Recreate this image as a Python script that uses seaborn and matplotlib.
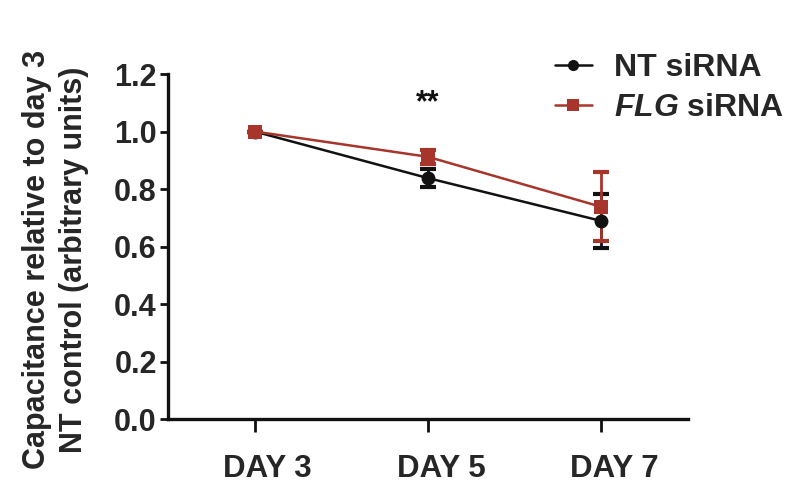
import matplotlib
matplotlib.use("Agg")
import matplotlib.pyplot as plt
import matplotlib.transforms as mtransforms
import seaborn as sns
import pandas as pd

days = ["DAY 3", "DAY 5", "DAY 7"]
nt_mean = [1.0, 0.838, 0.689]
nt_err = [0.0, 0.03, 0.094]
flg_mean = [1.0, 0.912, 0.738]
flg_err = [0.0, 0.025, 0.12]
groups = ["NT siRNA", "FLG siRNA"]

black = "#111111"
red = "#a8352b"

sns.set_style("white")
plt.rcParams['font.family'] = ['Liberation Sans', 'DejaVu Sans']
plt.rcParams['mathtext.fontset'] = 'custom'
plt.rcParams['mathtext.it'] = 'Liberation Sans:italic:bold'
plt.rcParams['mathtext.rm'] = 'Liberation Sans:bold'

df = pd.DataFrame({
    "x": list(range(len(days))) * 2,
    "y": nt_mean + flg_mean,
    "err": nt_err + flg_err,
    "group": [groups[0]] * len(days) + [groups[1]] * len(days),
})

fig = plt.figure(figsize=(7.98, 4.95), dpi=100)
ax = fig.add_axes([0.2105, 0.1535, 0.6515, 0.697])

palette = {groups[0]: black, groups[1]: red}
for g in groups:
    sub = df[df.group == g]
    ax.errorbar(sub.x, sub.y, yerr=sub.err, fmt="none", ecolor=palette[g],
                elinewidth=2, capsize=6, capthick=3, zorder=2)
sns.lineplot(data=df, x="x", y="y", hue="group", style="group",
             markers={groups[0]: "o", groups[1]: "s"}, dashes=False,
             palette=palette, markersize=10, markeredgewidth=0,
             linewidth=1.8, ax=ax, zorder=3)

ax.set_xlim(-0.5, 2.5)
ax.set_ylim(0, 1.2)
yt = [0.0, 0.2, 0.4, 0.6, 0.8, 1.0, 1.2]
ax.set_yticks(yt)
ax.set_yticklabels([f"{v:.1f}" for v in yt], fontsize=22, fontweight="bold")
ax.set_xticks(range(len(days)))
ax.set_xticklabels(days, fontsize=22.5, fontweight="bold")

ax.set_xlabel("")
ax.set_ylabel("Capacitance relative to day 3\nNT control (arbitrary units)",
              fontsize=22, fontweight="bold", labelpad=18, linespacing=1.32)
ax.yaxis.label.set_y(0.462)

for s in ["top", "right"]:
    ax.spines[s].set_visible(False)
for s in ["left", "bottom"]:
    ax.spines[s].set_linewidth(2.4)
    ax.spines[s].set_color(black)
ax.tick_params(axis="y", direction="out", length=6, width=2, color=black,
               left=True, pad=2)
ax.tick_params(axis="x", direction="out", length=9, width=2, color=black,
               bottom=True, pad=16)

# labels sit a little right of their ticks in the original
offset = mtransforms.ScaledTranslation(13 / 100, 0, fig.dpi_scale_trans)
for lab in ax.get_xticklabels():
    lab.set_transform(lab.get_transform() + offset)

ax.text(1, 1.1, "**", ha="center", va="center", fontsize=22, fontweight="bold",
        color=black)

handles, _ = ax.get_legend_handles_labels()
for h in handles:
    h.set_markersize(8)
leg = ax.legend(handles, ["NT siRNA", r"$\it{FLG}$ siRNA"], loc="upper left",
                bbox_to_anchor=(0.744, 1.06), frameon=False, fontsize=23,
                borderpad=0, borderaxespad=0, handlelength=1.15,
                handletextpad=0.7, labelspacing=0.3)
for t in leg.get_texts():
    t.set_fontweight("bold")

fig.savefig("out.png", dpi=100)
